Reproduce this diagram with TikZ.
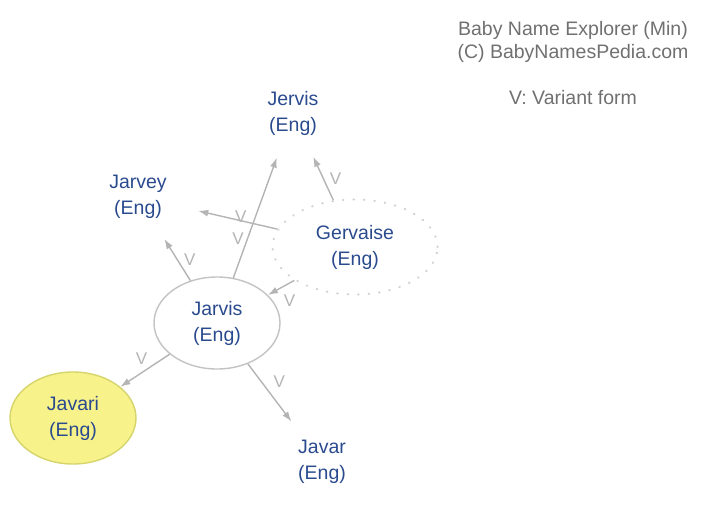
\documentclass[tikz,border=0pt]{standalone}
\usepackage{fontspec}
\setmainfont{Liberation Sans}
\usetikzlibrary{shapes.geometric,arrows.meta}
\definecolor{namecol}{HTML}{2A4A8E}
\definecolor{edgecol}{HTML}{B4B4B4}
\definecolor{infocol}{HTML}{707070}
\definecolor{mainfill}{HTML}{F7F28A}
\definecolor{maindraw}{HTML}{D6D46C}
\begin{document}
\begin{tikzpicture}[>={Latex[length=10pt,width=7pt]}, x=1pt, y=-1pt,
    babyname/.style={ellipse, minimum width=126pt, minimum height=92pt, inner sep=0pt, align=center, text=namecol, font=\fontsize{19.5}{26}\selectfont},
    variant/.style={->, draw=edgecol, line width=1.4pt},
    vlab/.style={text=edgecol, font=\fontsize{17}{17}\selectfont, inner sep=2pt}]
        \useasboundingbox (0,0) rectangle (720,519);
        \node[align=center, text=infocol, font=\fontsize{19.5}{23}\selectfont] (info) at (573,42) {Baby Name Explorer (Min)\\(C) BabyNamesPedia.com};
        \node[text=infocol, font=\fontsize{19.5}{23}\selectfont] (legend) at (573,98) {V: Variant form};
        \node[babyname] (jervis) at (293,113) {Jervis\\(Eng)};
        \node[babyname] (jarvey) at (138,197) {Jarvey\\(Eng)};
        \node[babyname, minimum width=165pt, minimum height=95pt, draw=edgecol!60, line width=2.2pt, line cap=round, dash pattern=on 0.5pt off 10pt] (gervaise) at (355,247) {Gervaise\\(Eng)};
        \node[babyname, draw=edgecol!80, line width=1.4pt] (jarvis) at (217,323) {Jarvis\\(Eng)};
        \node[babyname, fill=mainfill, draw=maindraw, line width=1.4pt] (javari) at (73,418) {Javari\\(Eng)};
        \node[babyname] (javar) at (322,462) {Javar\\(Eng)};
        \draw[variant] (jarvis) -- (jervis) node[vlab, pos=0.3, left, yshift=3pt] {V};
        \draw[variant] (jarvis) -- (jarvey) node[vlab, pos=0.5, right=4pt] {V};
        \draw[variant] (gervaise) -- (jervis) node[vlab, pos=0.5, right=4pt] {V};
        \draw[variant] (gervaise) -- (jarvey) node[vlab, pos=0.5, above, xshift=3pt, yshift=-5pt] {V};
        \draw[variant] (gervaise) -- (jarvis) node[vlab, pos=0.8, below right, xshift=8pt] {V};
        \draw[variant] (jarvis) -- (javari) node[vlab, pos=0.4, above left] {V};
        \draw[variant] (jarvis) -- (javar) node[vlab, pos=0.3, right=10pt] {V};
    \end{tikzpicture}
\end{document}
